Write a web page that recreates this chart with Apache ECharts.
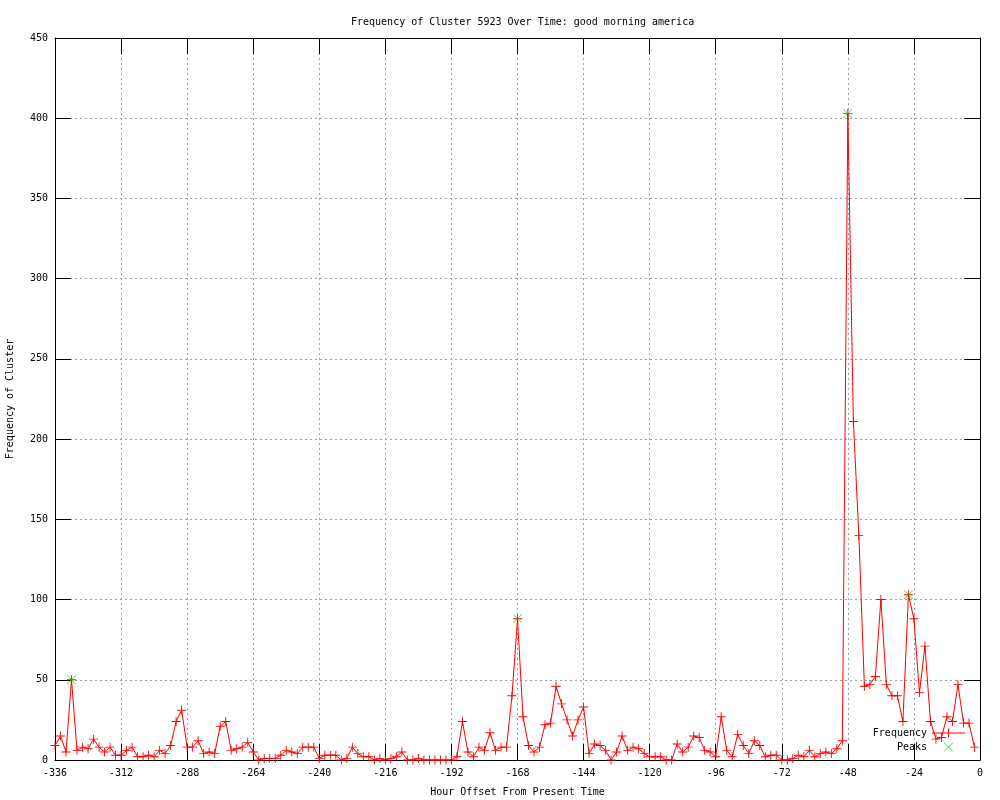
<!DOCTYPE html>
<html>
  <head>
    <meta charset="utf-8">
    <title></title>
    <style>
      body{ margin:0; background:#fff; }
      #wrap{
        width: 1000px;
        height: 800px;
      }
    </style>
    <script src="https://cdn.jsdelivr.net/npm/echarts@6/dist/echarts.min.js" charset="utf-8"></script>
  </head>
  <body>
    <div id="wrap"></div>
    <script>
    // hourly offsets, one sample every 2 hours starting at -336
      var startHour = -336;
      var stepHours = 2;

      var frequency = [
        9,15,5,50,6,8,7,13,8,5,8,3,
        3,6,8,2,2,3,2,6,4,9,24,31,
        8,8,12,4,5,4,21,24,6,7,8,11,
        5,0,1,1,1,3,6,5,4,8,8,8,
        1,3,3,3,0,1,8,4,2,2,0,1,
        0,1,2,5,0,0,1,0,0,0,0,0,
        0,2,24,5,2,8,6,17,6,8,8,40,
        88,27,9,5,8,22,23,46,35,25,15,25,
        33,4,10,9,6,0,5,15,6,8,7,4,
        2,2,2,0,0,10,5,8,15,14,6,5,
        2,27,6,2,16,9,4,12,9,2,3,3,
        0,0,1,3,2,6,2,4,5,4,7,12,
        403,211,140,46,47,52,100,47,40,40,24,103,
        88,42,71,24,13,14,27,24,47,23,23,8
      ];

      var peakHours = [-330, -168, -48, -26];
      var peakValues = [50, 88, 403, 103];

      var font = 'DejaVu Sans Mono';
      var plus = 'path://M9,0H11V9H20V11H11V20H9V11H0V9H9Z';
      var cross = 'path://M0,1L1,0L10,9L19,0L20,1L11,10L20,19L19,20L10,11L1,20L0,19L9,10Z';
      // legend sample: thin line with a + in the middle
      var lineIcon = 'path://M0,4H33V5H0Z M16,0H17V9H16Z';

      var freqData = frequency.map(function(v, i){
        return [startHour + i * stepHours, v];
      });
      var peakData = peakHours.map(function(h, i){
        return [h, peakValues[i]];
      });

      var chart = echarts.init(document.getElementById('wrap'));

      var tickStyle = {show:true, inside:true, length:16, lineStyle:{color:'#000', width:1}};
      var lineStyle = {show:true, onZero:false, lineStyle:{color:'#000', width:1}};
      var gridLine = {show:true, lineStyle:{color:'#a0a0a0', type:[2,3], width:1}};

      var option = {
        animation: false,
        title: {
          text: 'Frequency of Cluster 5923 Over Time: good morning america',
          left: 346,
          top: 12,
          textStyle: {fontFamily: font, fontSize: 10, fontWeight: 'normal', color: '#000'}
        },
        grid: {left: 55, right: 20, top: 38, bottom: 40, containLabel: false, outerBoundsMode: 'none'},
        legend: {
          orient: 'vertical',
          right: 30,
          bottom: 43,
          align: 'right',
          itemWidth: 33,
          itemHeight: 9,
          itemGap: 4,
          textStyle: {fontFamily: font, fontSize: 10, color: '#000'},
          data: [
            {name: 'Frequency', icon: lineIcon, itemStyle: {color: '#ff0000', borderWidth: 0}},
            {name: 'Peaks', icon: cross, itemStyle: {color: '#00c000', borderWidth: 0}}
          ]
        },
        xAxis: [{
          type: 'value',
          min: -336,
          max: 0,
          interval: 24,
          name: 'Hour Offset From Present Time',
          nameLocation: 'middle',
          nameGap: 27,
          nameTextStyle: {fontFamily: font, fontSize: 10, color: '#000'},
          axisLine: lineStyle,
          axisTick: tickStyle,
          axisLabel: {fontFamily: font, fontSize: 10, color: '#000', margin: 8},
          splitLine: gridLine
        }, {
          type: 'value',
          position: 'top',
          min: -336,
          max: 0,
          interval: 24,
          axisLine: lineStyle,
          axisTick: tickStyle,
          axisLabel: {show: false},
          splitLine: {show: false}
        }],
        yAxis: [{
          type: 'value',
          min: 0,
          max: 450,
          interval: 50,
          name: 'Frequency of Cluster',
          nameLocation: 'middle',
          nameGap: 40,
          nameRotate: 90,
          nameTextStyle: {fontFamily: font, fontSize: 10, color: '#000'},
          axisLine: lineStyle,
          axisTick: tickStyle,
          axisLabel: {fontFamily: font, fontSize: 10, color: '#000', margin: 7},
          splitLine: gridLine
        }, {
          type: 'value',
          position: 'right',
          min: 0,
          max: 450,
          interval: 50,
          axisLine: lineStyle,
          axisTick: tickStyle,
          axisLabel: {show: false},
          splitLine: {show: false}
        }],
        series: [{
          name: 'Frequency',
          type: 'line',
          data: freqData,
          symbol: plus,
          symbolSize: 9,
          showAllSymbol: true,
          itemStyle: {color: '#ff0000'},
          lineStyle: {color: '#ff0000', width: 1},
          z: 3
        }, {
          name: 'Peaks',
          type: 'scatter',
          data: peakData,
          symbol: cross,
          symbolSize: 9,
          itemStyle: {color: '#00c000'},
          z: 4
        }]
      };
      chart.setOption(option);
    </script>
  </body>
</html>
